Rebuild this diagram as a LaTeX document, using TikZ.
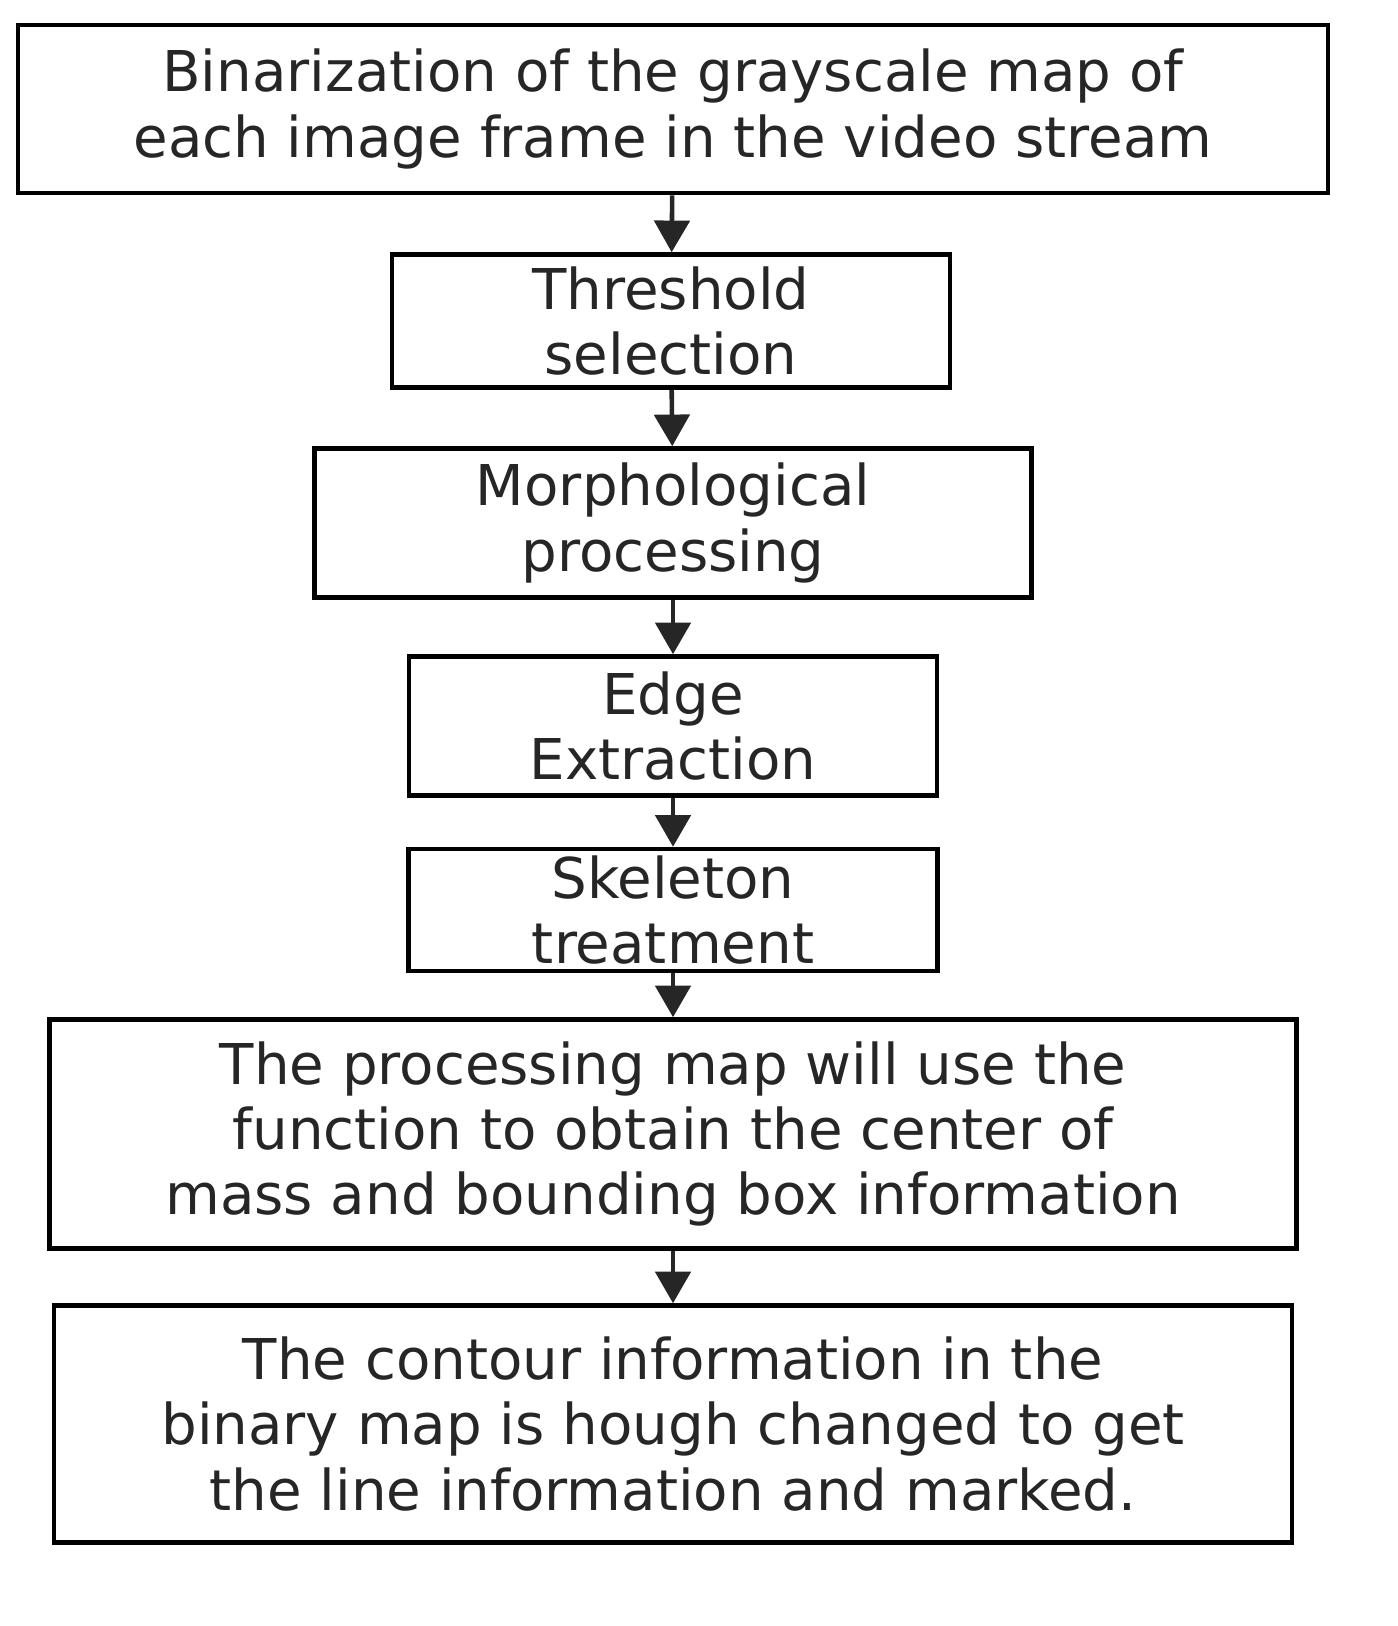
\documentclass[tikz,border=0pt]{standalone}
\usepackage{fontspec}
\setmainfont{DejaVu Sans}
\usetikzlibrary{arrows.meta}

\begin{document}
\begin{tikzpicture}[
    stage/.style={rectangle, draw, line width=1.3pt, align=center, inner sep=0pt, font=\fontsize{16}{18.6}\selectfont, text=black!85},
    flow/.style={-{Triangle[width=10pt,length=9pt]}, line width=1.3pt, black!85}
]
    \useasboundingbox (0,0) rectangle (13.98,-16.26);

    % Stages
    \node[stage, minimum width=13.1cm, minimum height=1.68cm] (binar) at (6.73,-1.09) {Binarization of the grayscale map of\\each image frame in the video stream};
    \node[stage, minimum width=5.58cm, minimum height=1.33cm] (thresh) at (6.71,-3.21) {Threshold\\selection};
    \node[stage, minimum width=7.17cm, minimum height=1.49cm] (morph) at (6.73,-5.23) {Morphological\\processing};
    \node[stage, minimum width=5.28cm, minimum height=1.39cm] (edge) at (6.73,-7.26) {Edge\\Extraction};
    \node[stage, minimum width=5.29cm, minimum height=1.22cm] (skel) at (6.73,-9.10) {Skeleton\\treatment};
    \node[stage, minimum width=12.47cm, minimum height=2.29cm] (mass) at (6.73,-11.34) {The processing map will use the\\function to obtain the center of\\mass and bounding box information};
    \node[stage, minimum width=12.38cm, minimum height=2.37cm] (hough) at (6.73,-14.24) {The contour information in the\\binary map is hough changed to get\\the line information and marked.};

    % Flow
    \draw[flow] (binar) -- (thresh);
    \draw[flow] (thresh) -- (morph);
    \draw[flow] (morph) -- (edge);
    \draw[flow] (edge) -- (skel);
    \draw[flow] (skel) -- (mass);
    \draw[flow] (mass) -- (hough);
\end{tikzpicture}
\end{document}
